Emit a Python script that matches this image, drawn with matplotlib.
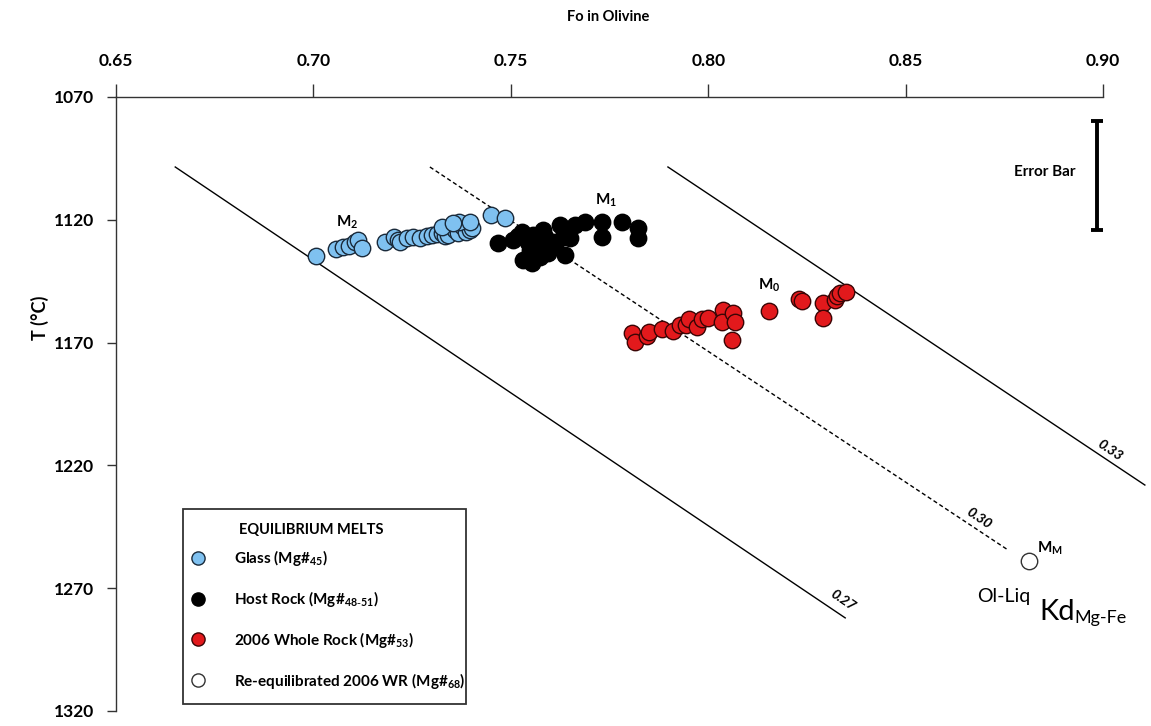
import matplotlib
matplotlib.use('Agg')
import matplotlib.pyplot as plt
from matplotlib.lines import Line2D
from matplotlib.patches import Rectangle

plt.rcParams['font.family'] = ['Lato', 'DejaVu Sans']

# ---------------- data ----------------
glass_fo = [0.7007, 0.7057, 0.7075, 0.7090, 0.7105, 0.7113, 0.7123, 0.7181, 0.7204,
            0.7214, 0.7219, 0.7237, 0.7252, 0.7270, 0.7288, 0.7300, 0.7313, 0.7326,
            0.7333, 0.7341, 0.7359, 0.7366, 0.7376, 0.7387, 0.7397, 0.7402, 0.7369,
            0.7326, 0.7354, 0.7397, 0.7450, 0.7485]
glass_t = [1134.7, 1131.9, 1131.1, 1130.7, 1129.0, 1128.2, 1131.5, 1129.0, 1127.0,
           1128.2, 1129.0, 1127.4, 1127.0, 1127.4, 1126.6, 1126.2, 1125.8, 1125.4,
           1126.6, 1126.2, 1124.2, 1125.4, 1122.5, 1125.0, 1124.2, 1123.3, 1120.9,
           1123.0, 1121.3, 1121.0, 1118.0, 1119.3]

host_fo = [0.7468, 0.7506, 0.7528, 0.7531, 0.7554, 0.7556, 0.7569, 0.7587, 0.7594,
           0.7625, 0.7637, 0.7632, 0.7663, 0.7688, 0.7731, 0.7731, 0.7782, 0.7822,
           0.7822, 0.7607, 0.7574, 0.7544, 0.7518, 0.7549, 0.7582, 0.7612, 0.7650,
           0.7541]
host_t = [1129.4, 1128.2, 1125.0, 1136.4, 1137.6, 1126.2, 1131.1, 1127.0, 1133.5,
          1122.1, 1134.3, 1127.0, 1122.1, 1120.9, 1120.9, 1127.0, 1120.9, 1123.3,
          1127.4, 1129.0, 1135.2, 1129.0, 1126.6, 1132.3, 1124.2, 1129.8, 1127.4,
          1127.4]

wr_fo = [0.7807, 0.7815, 0.7845, 0.7850, 0.7883, 0.7911, 0.7929, 0.7944, 0.7951,
         0.7972, 0.7984, 0.7999, 0.8038, 0.8035, 0.8063, 0.8068, 0.8060, 0.8154,
         0.8230, 0.8238, 0.8291, 0.8291, 0.8321, 0.8326, 0.8334, 0.8349]
wr_t = [1166.1, 1169.8, 1167.3, 1165.7, 1164.5, 1165.3, 1162.8, 1162.8, 1160.4,
        1163.7, 1160.4, 1160.0, 1156.7, 1161.6, 1158.0, 1161.6, 1168.9, 1157.1,
        1152.2, 1153.1, 1153.9, 1160.0, 1152.7, 1151.0, 1149.8, 1149.4]

reeq_fo = [0.8813]
reeq_t = [1258.9]

kd_labels = ['0.27', '0.30', '0.33']
kd_fo_start = [0.6650, 0.7295, 0.7898]
kd_t_start = [1098.5, 1098.5, 1098.5]
kd_fo_end = [0.8347, 0.8759, 0.9106]
kd_t_end = [1282.1, 1254.4, 1228.0]
kd_label_fo = [0.8341, 0.8686, 0.9018]
kd_label_t = [1274.8, 1241.4, 1213.7]

melt_names = ['M$_\\mathregular{2}$', 'M$_\\mathregular{1}$', 'M$_\\mathregular{0}$']
melt_fo = [0.7085, 0.7741, 0.8154]
melt_t = [1120.9, 1112.0, 1146.6]

err_fo = [0.8985]
err_t = [1102.0]
err_half = [22.2]

x_ticks = [0.65, 0.70, 0.75, 0.80, 0.85, 0.90]
y_ticks = [1070, 1120, 1170, 1220, 1270, 1320]

legend_title = 'EQUILIBRIUM MELTS'
legend_labels = ['Glass (Mg#$_\\mathregular{45}$)',
                 'Host Rock (Mg#$_\\mathregular{48\\text{-}51}$)',
                 '2006 Whole Rock (Mg#$_\\mathregular{53}$)',
                 'Re-equilibrated 2006 WR (Mg#$_\\mathregular{68}$)']

BLUE = '#7fc1f0'
RED = '#e2191c'

# ---------------- figure ----------------
fig = plt.figure(figsize=(11.51, 7.26), dpi=100)
ax = fig.add_axes([0.1008, 0.0207, 0.8575, 0.8457])
ax.set_xlim(0.65, 0.90)
ax.set_ylim(1320, 1070)

for sp in ['right', 'bottom']:
    ax.spines[sp].set_visible(False)
for sp in ['left', 'top']:
    ax.spines[sp].set_color('#333333')
    ax.spines[sp].set_linewidth(1.0)

ax.xaxis.tick_top()
ax.set_xticks(x_ticks)
ax.set_xticklabels([f'{v:.2f}' for v in x_ticks])
ax.set_yticks(y_ticks)
ax.set_yticklabels([str(v) for v in y_ticks])
ax.tick_params(axis='x', direction='out', length=9.5, width=1, pad=11,
               labelsize=12.5, colors='#333333', labelcolor='black')
ax.tick_params(axis='y', direction='out', length=6.5, width=1, pad=9,
               labelsize=12.5, colors='#333333', labelcolor='black')
for lab in ax.get_xticklabels() + ax.get_yticklabels():
    lab.set_fontweight('bold')

ax.set_xlabel('Fo in Olivine', fontsize=10.5, fontweight='bold')
ax.xaxis.set_label_position('top')
ax.xaxis.set_label_coords(0.4985, 1.130)
ax.xaxis.label.set_va('center')
ax.set_ylabel('T (°C)', fontsize=13, fontweight='bold')
ax.yaxis.set_label_coords(-0.077, 0.640)
ax.yaxis.label.set_va('center')

# Kd lines
styles = ['-', (0, (3, 2)), '-']
for i in range(3):
    ax.plot([kd_fo_start[i], kd_fo_end[i]], [kd_t_start[i], kd_t_end[i]],
            color='black', lw=1.0, linestyle=styles[i], clip_on=False, zorder=1)
    ax.text(kd_label_fo[i], kd_label_t[i], kd_labels[i], rotation=-34,
            rotation_mode='anchor', ha='center', va='center',
            fontsize=10, fontweight='bold', style='italic')

# data
ax.scatter(glass_fo, glass_t, s=140, c=BLUE, edgecolors='#1a2a3a', linewidths=1.0, zorder=3)
ax.scatter(host_fo, host_t, s=140, c='black', edgecolors='black', linewidths=1.0, zorder=3)
ax.scatter(wr_fo, wr_t, s=140, c=RED, edgecolors='#3a0505', linewidths=1.0, zorder=3)
ax.scatter(reeq_fo, reeq_t, s=140, c='white', edgecolors='#333333', linewidths=1.0, zorder=3)

for name, fx, ty in zip(melt_names, melt_fo, melt_t):
    ax.text(fx, ty, name, ha='center', va='center', fontsize=11, fontweight='bold')
ax.text(0.8833, 1255.3, 'M$_\\mathregular{M}$', ha='left', va='baseline',
        fontsize=11, fontweight='bold')

# Kd label
ax.text(0.8680, 1275.5, 'Ol-Liq', ha='left', va='baseline', fontsize=14)
ax.text(0.8838, 1283.0, 'Kd', ha='left', va='baseline', fontsize=21)
ax.text(0.8928, 1284.2, 'Mg-Fe', ha='left', va='baseline', fontsize=13)

# error bar
ax.errorbar(err_fo, err_t, yerr=err_half, fmt='none', ecolor='black',
            elinewidth=2.8, capsize=4.5, capthick=2.8, zorder=3)
ax.text(0.8853, 1100.5, 'Error Bar', ha='center', va='center',
        fontsize=11, fontweight='bold')

# legend (frame + title + entries)
ax.add_patch(Rectangle((0.0679, 0.0114), 0.2867, 0.3176, transform=ax.transAxes,
                       facecolor='white', edgecolor='#333333', lw=1.3, zorder=4))
ax.text(0.1976, 0.2948, legend_title, transform=ax.transAxes, ha='center',
        va='center', fontsize=10.5, fontweight='bold', zorder=6)
handles = [Line2D([], [], marker='o', ls='none', ms=9.5, mfc=BLUE, mec='#1a2a3a', mew=1.0),
           Line2D([], [], marker='o', ls='none', ms=9.5, mfc='black', mec='black', mew=1.0),
           Line2D([], [], marker='o', ls='none', ms=9.5, mfc=RED, mec='#3a0505', mew=1.0),
           Line2D([], [], marker='o', ls='none', ms=9.5, mfc='white', mec='#333333', mew=1.0)]
leg = ax.legend(handles, legend_labels, loc='upper left',
                bbox_to_anchor=(0.0754, 0.2655), frameon=False,
                labelspacing=1.37, handletextpad=1.85, borderpad=0,
                borderaxespad=0, handlelength=1.0,
                prop={'weight': 'bold', 'size': 11})
leg.set_zorder(6)

fig.savefig('out.png', dpi=100)
